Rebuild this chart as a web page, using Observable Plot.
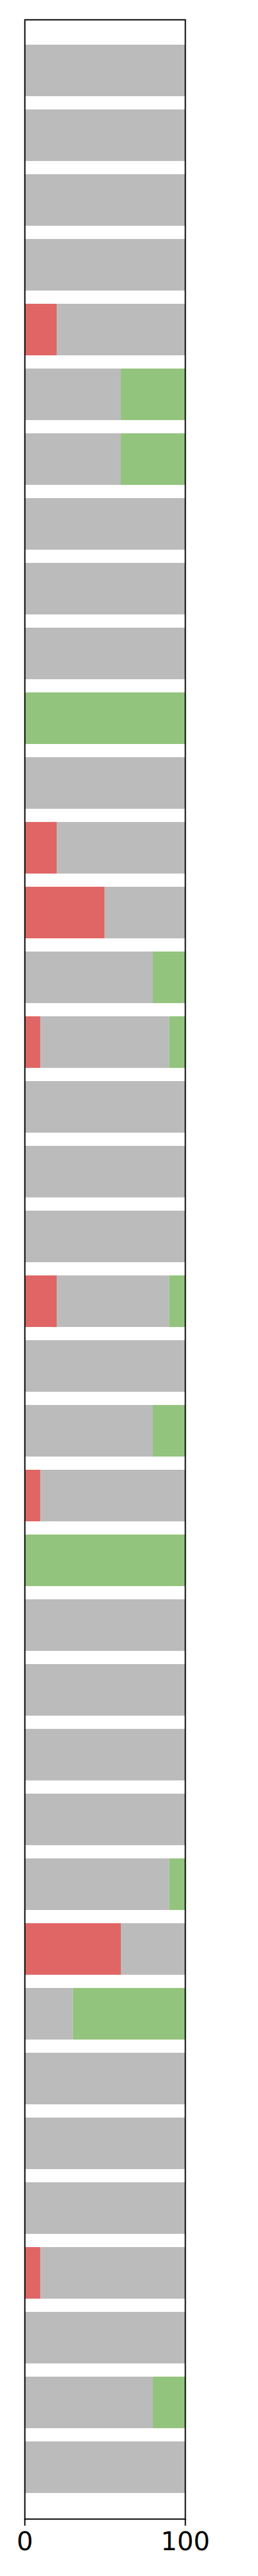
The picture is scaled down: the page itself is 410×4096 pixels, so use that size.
<!DOCTYPE html>
<html>
<head>
<meta charset="utf-8">
<script src="https://cdn.jsdelivr.net/npm/d3@7"></script>
<script src="https://cdn.jsdelivr.net/npm/@observablehq/plot@0.6"></script>
<style>
  html, body { margin: 0; padding: 0; background: white; }
</style>
</head>
<body>
<div id="chart"></div>
<script>
const rows = ["1","2","3","4","5","6","7","8","9","10","11","12","13","14","15","16","17","18","19",
  "20","21","22","23","24","25","26","27","28","29","30","31","32","33","34","35","36","37","38"];
const negative = [0,0,0,0,20,0,0,0,0,0,0,0,20,50,0,10,0,0,0,20,0,0,10,0,0,0,0,0,0,60,0,0,0,0,10,0,0,0];
const neutral  = [100,100,100,100,80,60,60,100,100,100,0,100,80,50,80,80,100,100,100,70,100,80,90,0,100,100,100,100,90,40,30,100,100,100,90,100,80,100];
const positive = [0,0,0,0,0,40,40,0,0,0,100,0,0,0,20,10,0,0,0,10,0,20,0,100,0,0,0,0,10,0,70,0,0,0,0,0,20,0];
const seriesNames = ["Negative", "Neutral", "Positive"];
const seriesColors = ["#e06666", "#bbbbbb", "#93c47d"];
const xTicks = [0, 100];

const seriesValues = [negative, neutral, positive];
const data = [];
rows.forEach((r, i) => {
  seriesNames.forEach((s, k) => {
    data.push({row: r, series: s, value: seriesValues[k][i]});
  });
});

const chart = Plot.plot({
  width: 410,
  height: 4096,
  marginLeft: 39,
  marginRight: 116,
  marginTop: 31,
  marginBottom: 91,
  style: {fontFamily: "DejaVu Sans", color: "black", background: "white"},
  x: {domain: [0, 100], axis: null},
  y: {domain: rows, paddingInner: 0.2, paddingOuter: 0.25, axis: null},
  color: {domain: seriesNames, range: seriesColors},
  marks: [
    Plot.barX(data, {x: "value", y: "row", fill: "series", order: seriesNames, inset: 0}),
    Plot.frame({stroke: "black", strokeWidth: 2}),
    Plot.axisX({ticks: xTicks, tickSize: 11, tickPadding: 9, fontSize: 41, strokeWidth: 2, tickFormat: d => String(d), label: null})
  ]
});
document.getElementById("chart").appendChild(chart);
</script>
</body>
</html>
